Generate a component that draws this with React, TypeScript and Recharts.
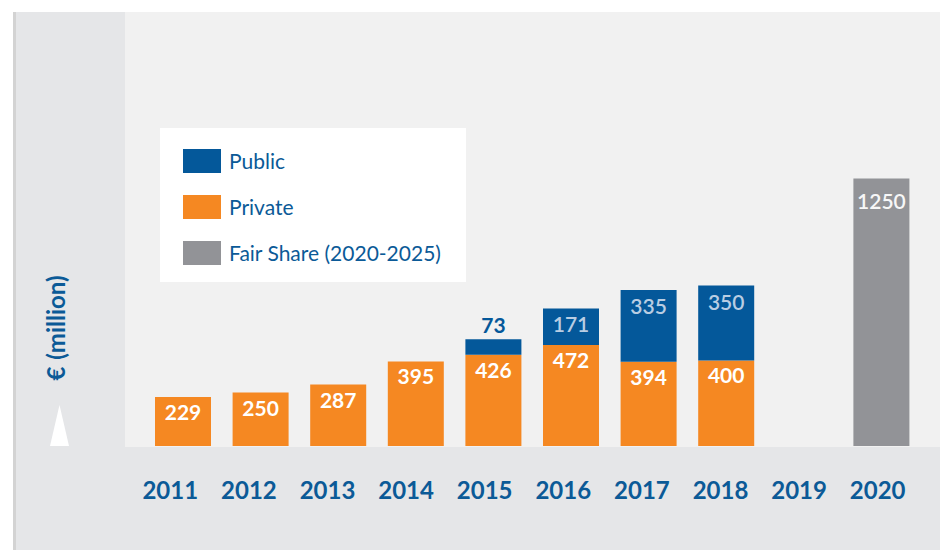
import React from 'react';
import { BarChart, Bar, XAxis, YAxis, Legend, LabelList } from 'recharts';

const years = ['2011', '2012', '2013', '2014', '2015', '2016', '2017', '2018', '2019', '2020'];
const privateValues = [229, 250, 287, 395, 426, 472, 394, 400, null, null];
const publicValues = [null, null, null, null, 73, 171, 335, 350, null, null];
const fairShareValues = [null, null, null, null, null, null, null, null, null, 1250];

const BLUE = '#04589a';
const ORANGE = '#f58822';
const GREY = '#929397';
const TEXT_BLUE = '#0b5a97';
const FONT = 'Lato, "Open Sans", sans-serif';

const legendItems = [
  { name: 'Public', color: BLUE },
  { name: 'Private', color: ORANGE },
  { name: 'Fair Share (2020-2025)', color: GREY },
];

const data = years.map((year, i) => ({
  year,
  private: privateValues[i],
  public: publicValues[i],
  fairShare: fairShareValues[i],
}));

// label drawn near the top of each segment; small segments get it above
const makeLabel = (color: string, offset: number, weight: number) => (props: any) => {
  const { x, y, width, height, value } = props;
  if (value == null || !height) return null;
  const small = height < 30;
  return (
    <text
      x={x + width / 2}
      y={small ? y - 6 : y + offset}
      textAnchor="middle"
      fill={small ? BLUE : color}
      style={{ fontFamily: FONT, fontSize: 21, fontWeight: small ? 700 : weight }}
    >
      {value}
    </text>
  );
};

const YearTick = (props: any) => {
  const { x, y, payload } = props;
  return (
    <text x={x} y={y + 45} textAnchor="middle" fill={TEXT_BLUE} style={{ fontFamily: FONT, fontSize: 24, fontWeight: 700 }}>
      {payload.value}
    </text>
  );
};

const LegendBox = () => (
  <div style={{ background: '#fff', width: 306, height: 154, position: 'relative', fontFamily: FONT }}>
    {legendItems.map((item, i) => (
      <div key={item.name} style={{ position: 'absolute', left: 23, top: 20 + i * 46, display: 'flex', alignItems: 'center' }}>
        <div style={{ width: 38, height: 24, background: item.color }} />
        <span style={{ marginLeft: 8, fontSize: 21, color: TEXT_BLUE }}>{item.name}</span>
      </div>
    ))}
  </div>
);

export default function App() {
  return (
    <div style={{ position: 'absolute', left: 0, top: 0, width: 940, height: 550, background: '#fff', overflow: 'hidden' }}>
      {/* background panels */}
      <div style={{ position: 'absolute', left: 13, top: 12, width: 3, height: 538, background: '#d3d3d3' }} />
      <div style={{ position: 'absolute', left: 16, top: 12, width: 109, height: 538, background: '#e5e6e8' }} />
      <div style={{ position: 'absolute', left: 125, top: 12, width: 815, height: 435, background: '#f1f1f1' }} />
      <div style={{ position: 'absolute', left: 125, top: 447, width: 815, height: 103, background: '#e5e6e8' }} />

      <svg width={940} height={550} style={{ position: 'absolute', left: 0, top: 0 }}>
        <text
          transform="translate(65 328) rotate(-90)"
          textAnchor="middle"
          fill={TEXT_BLUE}
          style={{ fontFamily: FONT, fontSize: 24, fontWeight: 700 }}
        >
          <tspan>€</tspan>
          <tspan dx={7}>(million)</tspan>
        </text>
        <polygon points="50,446 69,446 59.5,405" fill="#fff" />
      </svg>

      <div style={{ position: 'absolute', left: 0, top: 0 }}>
        <BarChart width={940} height={550} data={data} margin={{ top: 18, right: 20, left: 144, bottom: 74 }}>
          <XAxis dataKey="year" hide height={0} />
          {/* year labels sit on a slightly wider band than the bars */}
          <XAxis
            xAxisId="labels"
            dataKey="year"
            axisLine={false}
            tickLine={false}
            interval={0}
            tick={<YearTick />}
            height={30}
            padding={{ left: -13, right: 3 }}
          />
          <YAxis hide domain={[0, 2000]} />
          <Legend
            layout="vertical"
            align="center"
            verticalAlign="middle"
            content={() => <LegendBox />}
            wrapperStyle={{ left: 160, top: 128, width: 306, height: 154 }}
          />
          <Bar dataKey="private" stackId="a" fill={ORANGE} barSize={56} isAnimationActive={false}>
            <LabelList dataKey="private" content={makeLabel('#ffffff', 23, 700)} />
          </Bar>
          <Bar dataKey="public" stackId="a" fill={BLUE} barSize={56} isAnimationActive={false}>
            <LabelList dataKey="public" content={makeLabel('#b9cde3', 24, 600)} />
          </Bar>
          <Bar dataKey="fairShare" stackId="a" fill={GREY} barSize={56} isAnimationActive={false}>
            <LabelList dataKey="fairShare" content={makeLabel('#f7f7f7', 30, 600)} />
          </Bar>
        </BarChart>
      </div>
    </div>
  );
}
